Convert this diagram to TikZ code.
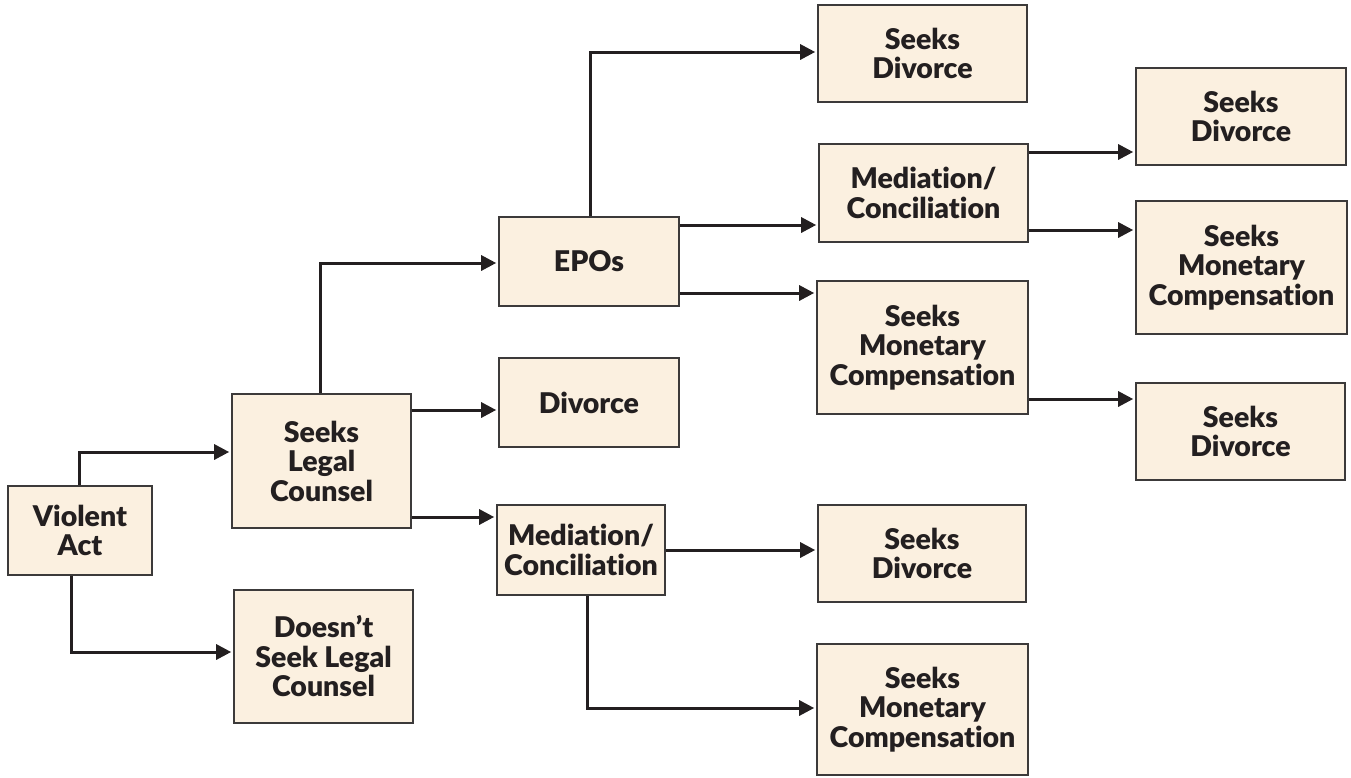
\documentclass[tikz,border=0pt]{standalone}
\usepackage{fontspec}
\setmainfont{Lato}[BoldFont={Lato Black}, Ligatures={NoCommon}]
\usetikzlibrary{arrows.meta}
\definecolor{boxfill}{RGB}{251,240,224}
\definecolor{ink}{RGB}{35,31,32}
\definecolor{edge}{RGB}{60,58,58}
\tikzset{
  box/.style={draw=edge, line width=1.6pt, fill=boxfill, align=center, inner sep=0pt,
    text=ink, font=\fontsize{28.5}{29.5}\selectfont\bfseries},
  arr/.style={draw=ink, line width=3pt, -{Triangle[length=15pt,width=15pt]}, shorten >=2pt}
}
\newcommand{\bx}[6]{\node[box, minimum width=#4pt, minimum height=#5pt] (#1) at (#2,#3) {#6};}
\begin{document}
\begin{tikzpicture}[x=1pt,y=-1pt]
\useasboundingbox (0,0) rectangle (1351,777);
\bx{va}{80}{530.5}{144}{89}{Violent\\Act}
\bx{slc}{321.5}{461}{179}{134}{Seeks\\Legal\\Counsel}
\bx{dslc}{323.5}{656.5}{179}{133}{Doesn’t\\Seek Legal\\Counsel}
\bx{epo}{589}{261.5}{180}{89}{EPOs}
\bx{div}{589}{402.5}{180}{89}{Divorce}
\bx{medl}{581}{550}{168}{90}{Mediation/\\Conciliation}
\bx{sda}{922.5}{53.5}{209}{97}{Seeks\\Divorce}
\bx{medu}{923.5}{193}{209}{98}{Mediation/\\Conciliation}
\bx{smca}{922.5}{347.5}{211}{133}{Seeks\\Monetary\\Compensation}
\bx{sdb}{1241}{116.5}{210}{97}{Seeks\\Divorce}
\bx{smcb}{1241.5}{267.5}{211}{133}{Seeks\\Monetary\\Compensation}
\bx{sdc}{1240.5}{431.5}{209}{97}{Seeks\\Divorce}
\bx{sdd}{922}{553.5}{208}{97}{Seeks\\Divorce}
\bx{smcc}{922.5}{709.5}{211}{131}{Seeks\\Monetary\\Compensation}

\draw[arr] (va.north -| 79,0) |- (slc.west |- 0,452);
\draw[arr] (va.south -| 71,0) |- (dslc.west |- 0,652);
\draw[arr] (slc.north -| 320,0) |- (epo.west |- 0,263);
\draw[arr] (slc.east |- 0,410) -- (div.west |- 0,410);
\draw[arr] (slc.east |- 0,517) -- (medl.west |- 0,517);
\draw[arr] (epo.north -| 590,0) |- (sda.west |- 0,52);
\draw[arr] (epo.east |- 0,225) -- (medu.west |- 0,225);
\draw[arr] (epo.east |- 0,293) -- (smca.west |- 0,293);
\draw[arr] (medu.east |- 0,152) -- (sdb.west |- 0,152);
\draw[arr] (medu.east |- 0,230) -- (smcb.west |- 0,230);
\draw[arr] (smca.east |- 0,399) -- (sdc.west |- 0,399);
\draw[arr] (medl.east |- 0,550) -- (sdd.west |- 0,550);
\draw[arr] (medl.south -| 587,0) |- (smcc.west |- 0,708);
\end{tikzpicture}
\end{document}
